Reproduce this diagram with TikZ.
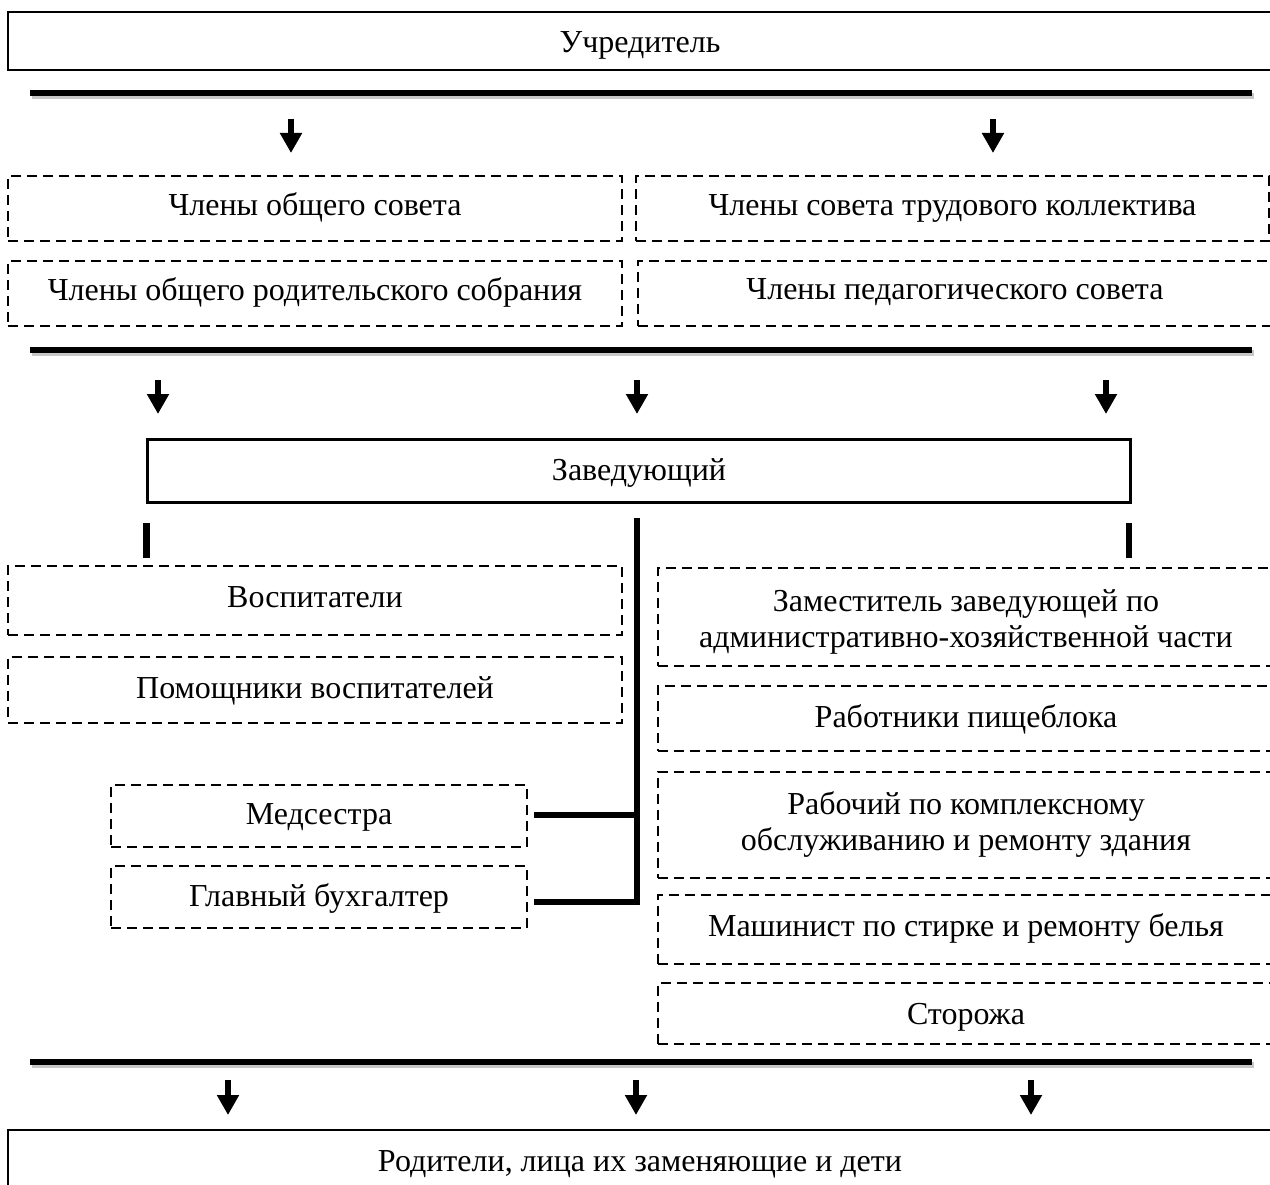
\documentclass[tikz,border=0pt]{standalone}
\usepackage{fontspec}
\setmainfont{Liberation Serif}
\usetikzlibrary{arrows.meta}
\tikzset{
  x=1pt, y=1pt,
  txt/.style={font=\fontsize{32}{36}\selectfont, align=center, inner sep=0pt},
  sbox/.style={txt, draw, line width=2.2pt},
  dbox/.style={txt, draw, line width=2pt, dash pattern=on 10pt off 6pt},
  bl/.style={text height=#1, text depth=0pt},
  bar/.style={line width=6.5pt},
  barshadow/.style={line width=6.5pt, draw=black!22},
  conn/.style={line width=5.5pt},
  arr/.style={line width=6.5pt, -{Triangle[width=21pt,length=20pt]}},
}
\begin{document}
\begin{tikzpicture}
\useasboundingbox (0,0) rectangle (1270,-1185);
\clip (0,0) rectangle (1270,-1185);
\fill[white] (0,0) rectangle (1270,-1185);

% top box
\node[sbox, bl=23pt, minimum width=1264pt, minimum height=58pt] (uchr) at (640,-41) {Учредитель};

% thick line 1
\coordinate (l1a) at (30,-93);
\coordinate (l1b) at (1252,-93);
\draw[barshadow] ([shift={(2,-3)}]l1a) -- ([shift={(2,-3)}]l1b);
\draw[bar] (l1a) -- (l1b);

\coordinate (a1s) at (291,-119); \coordinate (a1e) at (291,-153);
\coordinate (a2s) at (993,-119); \coordinate (a2e) at (993,-153);
\draw[arr] (a1s) -- (a1e);
\draw[arr] (a2s) -- (a2e);

% councils
\node[dbox, bl=15pt, minimum width=614pt, minimum height=65pt] (obsov) at (315,-208.5) {Члены общего совета};
\node[dbox, bl=14pt, minimum width=633pt, minimum height=65pt] (trud) at (952.5,-208.5) {Члены совета трудового коллектива};
\node[dbox, bl=15pt, minimum width=614pt, minimum height=65pt] (rodsob) at (315,-293.5) {Члены общего родительского собрания};
\node[dbox, bl=13pt, minimum width=634pt, minimum height=65pt] (pedsov) at (955,-293.5) {Члены педагогического совета};

% thick line 2
\coordinate (l2a) at (30,-350);
\coordinate (l2b) at (1252,-350);
\draw[barshadow] ([shift={(2,-3)}]l2a) -- ([shift={(2,-3)}]l2b);
\draw[bar] (l2a) -- (l2b);

\coordinate (b1s) at (158,-380); \coordinate (b1e) at (158,-414);
\coordinate (b2s) at (637,-380); \coordinate (b2e) at (637,-414);
\coordinate (b3s) at (1106,-380); \coordinate (b3e) at (1106,-414);
\draw[arr] (b1s) -- (b1e);
\draw[arr] (b2s) -- (b2e);
\draw[arr] (b3s) -- (b3e);

% head
\node[sbox, bl=19pt, minimum width=983pt, minimum height=63pt] (zav) at (639,-471) {Заведующий};

% short bars
\coordinate (t1s) at (146.5,-523); \coordinate (t1e) at (146.5,-558);
\coordinate (t3s) at (1129,-523); \coordinate (t3e) at (1129,-558);
\draw[bar] (t1s) -- (t1e);
\draw[bar] (t3s) -- (t3e);

% left column
\node[dbox, bl=13pt, minimum width=614pt, minimum height=69pt] (vosp) at (315,-600.5) {Воспитатели};
\node[dbox, bl=17pt, minimum width=614pt, minimum height=66pt] (pom) at (315,-689.5) {Помощники воспитателей};
\node[dbox, bl=16pt, minimum width=416pt, minimum height=62pt] (med) at (319,-816) {Медсестра};
\node[dbox, bl=20pt, minimum width=416pt, minimum height=62pt] (buh) at (319,-896.5) {Главный бухгалтер};

% right column
\node[dbox, bl=60pt, minimum width=616pt, minimum height=98pt] (zam) at (966,-617) {Заместитель заведующей по\\административно-хозяйственной части};
\node[dbox, bl=17pt, minimum width=616pt, minimum height=65pt] (pish) at (966,-718.5) {Работники пищеблока};
\node[dbox, bl=50pt, minimum width=616pt, minimum height=106pt] (rab) at (966,-825) {Рабочий по комплексному\\обслуживанию и ремонту здания};
\node[dbox, bl=13pt, minimum width=616pt, minimum height=69pt] (mash) at (966,-929.5) {Машинист по стирке и ремонту белья};
\node[dbox, bl=22pt, minimum width=616pt, minimum height=61pt] (stor) at (966,-1013.5) {Сторожа};

% middle trunk
\coordinate (trtop) at (637,-518);
\coordinate (trj1) at (637,-815);
\coordinate (trbot) at (637,-902);
\draw[conn] (trtop) -- ([yshift=-2.75pt]trbot);
\draw[conn] ([xshift=6pt]med.east |- trj1) -- ([xshift=2.75pt]trj1);
\draw[conn] ([xshift=6pt]buh.east |- trbot) -- ([xshift=2.75pt]trbot);

% thick line 3
\coordinate (l3a) at (30,-1062);
\coordinate (l3b) at (1252,-1062);
\draw[barshadow] ([shift={(2,-3)}]l3a) -- ([shift={(2,-3)}]l3b);
\draw[bar] (l3a) -- (l3b);

\coordinate (c1s) at (228,-1080); \coordinate (c1e) at (228,-1115);
\coordinate (c2s) at (636,-1080); \coordinate (c2e) at (636,-1115);
\coordinate (c3s) at (1031,-1080); \coordinate (c3e) at (1031,-1115);
\draw[arr] (c1s) -- (c1e);
\draw[arr] (c2s) -- (c2e);
\draw[arr] (c3s) -- (c3e);

% bottom box
\node[sbox, bl=18pt, minimum width=1264pt, minimum height=64pt] (rod) at (640,-1162) {Родители, лица их заменяющие и дети};
\end{tikzpicture}
\end{document}
